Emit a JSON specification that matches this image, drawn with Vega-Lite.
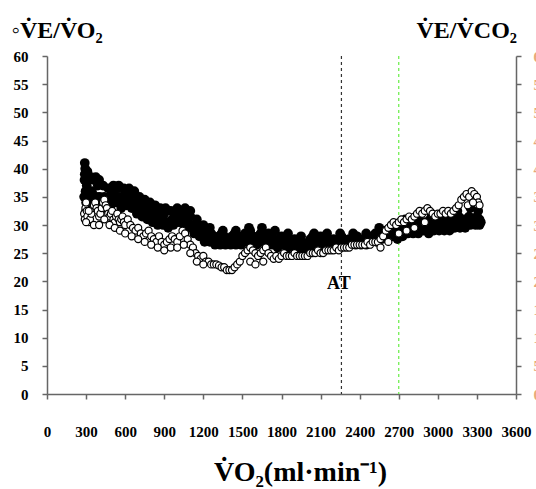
{
  "$schema": "https://vega.github.io/schema/vega-lite/v6.json",
  "width": 469,
  "height": 338,
  "autosize": {"type": "none"},
  "padding": {"left": 47, "top": 56, "right": 20, "bottom": 95},
  "background": "white",
  "config": {
    "view": {"stroke": null},
    "axis": {
      "labelFont": "Liberation Serif",
      "labelFontWeight": "bold",
      "labelFontSize": 15,
      "labelColor": "#000000",
      "labelOverlap": false,
      "labelFlush": false,
      "titleFont": "Liberation Serif",
      "titleFontWeight": "bold",
      "titleColor": "#000000",
      "domainColor": "#666666",
      "domainWidth": 1.5,
      "tickColor": "#666666",
      "tickWidth": 1.5,
      "tickSize": 5,
      "grid": false
    }
  },
  "datasets": {
    "vevco2": [
      {"vo2": 285, "r": 35}, {"vo2": 288, "r": 38}, {"vo2": 290, "r": 41}, {"vo2": 293, "r": 40}, {"vo2": 296, "r": 36},
      {"vo2": 300, "r": 34}, {"vo2": 305, "r": 37}, {"vo2": 315, "r": 35}, {"vo2": 330, "r": 34}, {"vo2": 345, "r": 36},
      {"vo2": 360, "r": 38}, {"vo2": 375, "r": 38.5}, {"vo2": 390, "r": 37}, {"vo2": 405, "r": 35}, {"vo2": 420, "r": 34},
      {"vo2": 440, "r": 35}, {"vo2": 460, "r": 34}, {"vo2": 480, "r": 35}, {"vo2": 500, "r": 36}, {"vo2": 520, "r": 35},
      {"vo2": 540, "r": 36.5}, {"vo2": 560, "r": 35}, {"vo2": 580, "r": 34}, {"vo2": 600, "r": 36}, {"vo2": 620, "r": 35},
      {"vo2": 640, "r": 34}, {"vo2": 660, "r": 35.5}, {"vo2": 680, "r": 34}, {"vo2": 700, "r": 33}, {"vo2": 720, "r": 34},
      {"vo2": 740, "r": 33}, {"vo2": 760, "r": 32}, {"vo2": 780, "r": 33.5}, {"vo2": 800, "r": 32}, {"vo2": 820, "r": 31},
      {"vo2": 840, "r": 32.5}, {"vo2": 860, "r": 31.5}, {"vo2": 880, "r": 31}, {"vo2": 900, "r": 32}, {"vo2": 920, "r": 30.5},
      {"vo2": 940, "r": 30}, {"vo2": 960, "r": 31}, {"vo2": 980, "r": 32}, {"vo2": 1000, "r": 32.5}, {"vo2": 1020, "r": 31},
      {"vo2": 1040, "r": 32}, {"vo2": 1060, "r": 31}, {"vo2": 1080, "r": 30.5}, {"vo2": 1100, "r": 31.5}, {"vo2": 1120, "r": 30},
      {"vo2": 1140, "r": 29}, {"vo2": 1160, "r": 30}, {"vo2": 1180, "r": 28.5}, {"vo2": 1200, "r": 28}, {"vo2": 1220, "r": 29},
      {"vo2": 1240, "r": 28}, {"vo2": 1260, "r": 28.5}, {"vo2": 1280, "r": 28}, {"vo2": 1300, "r": 27.5}, {"vo2": 1320, "r": 28},
      {"vo2": 1340, "r": 28.5}, {"vo2": 1360, "r": 28}, {"vo2": 1380, "r": 27.5}, {"vo2": 1400, "r": 27.5}, {"vo2": 1420, "r": 28},
      {"vo2": 1440, "r": 28.5}, {"vo2": 1460, "r": 28}, {"vo2": 1480, "r": 27.5}, {"vo2": 1500, "r": 28}, {"vo2": 1520, "r": 28.5},
      {"vo2": 1540, "r": 28}, {"vo2": 1560, "r": 29}, {"vo2": 1580, "r": 28}, {"vo2": 1600, "r": 27.5}, {"vo2": 1620, "r": 28},
      {"vo2": 1640, "r": 28.5}, {"vo2": 1660, "r": 28}, {"vo2": 1680, "r": 27.5}, {"vo2": 1700, "r": 28.5}, {"vo2": 1720, "r": 28},
      {"vo2": 1740, "r": 27.5}, {"vo2": 1760, "r": 27}, {"vo2": 1780, "r": 27.5}, {"vo2": 1800, "r": 28}, {"vo2": 1820, "r": 27.5},
      {"vo2": 1840, "r": 27}, {"vo2": 1860, "r": 26.5}, {"vo2": 1880, "r": 27}, {"vo2": 1900, "r": 27.5}, {"vo2": 1920, "r": 27},
      {"vo2": 1940, "r": 26.5}, {"vo2": 1960, "r": 27}, {"vo2": 1980, "r": 26.5}, {"vo2": 2000, "r": 26.5}, {"vo2": 2020, "r": 27.5},
      {"vo2": 2040, "r": 28}, {"vo2": 2060, "r": 27}, {"vo2": 2080, "r": 27.5}, {"vo2": 2100, "r": 28}, {"vo2": 2120, "r": 27.5},
      {"vo2": 2140, "r": 27}, {"vo2": 2160, "r": 27.5}, {"vo2": 2180, "r": 27}, {"vo2": 2200, "r": 27.5}, {"vo2": 2220, "r": 27},
      {"vo2": 2240, "r": 27.5}, {"vo2": 2260, "r": 28}, {"vo2": 2280, "r": 27.5}, {"vo2": 2300, "r": 27}, {"vo2": 2320, "r": 27.5},
      {"vo2": 2340, "r": 27}, {"vo2": 2360, "r": 27.5}, {"vo2": 2380, "r": 28}, {"vo2": 2400, "r": 27.5}, {"vo2": 2420, "r": 27},
      {"vo2": 2440, "r": 27.5}, {"vo2": 2460, "r": 28}, {"vo2": 2480, "r": 27.5}, {"vo2": 2500, "r": 28}, {"vo2": 2520, "r": 28.5},
      {"vo2": 2540, "r": 28}, {"vo2": 2560, "r": 29}, {"vo2": 2580, "r": 28.5}, {"vo2": 2600, "r": 29}, {"vo2": 2620, "r": 28},
      {"vo2": 2640, "r": 29.5}, {"vo2": 2660, "r": 29}, {"vo2": 2680, "r": 28}, {"vo2": 2700, "r": 29.5}, {"vo2": 2720, "r": 30},
      {"vo2": 2740, "r": 29}, {"vo2": 2760, "r": 30.5}, {"vo2": 2780, "r": 29.5}, {"vo2": 2800, "r": 30}, {"vo2": 2820, "r": 29},
      {"vo2": 2840, "r": 30.5}, {"vo2": 2860, "r": 30}, {"vo2": 2880, "r": 29.5}, {"vo2": 2900, "r": 30.5}, {"vo2": 2920, "r": 30},
      {"vo2": 2940, "r": 31}, {"vo2": 2960, "r": 29.5}, {"vo2": 2980, "r": 30.5}, {"vo2": 3000, "r": 30}, {"vo2": 3020, "r": 31},
      {"vo2": 3040, "r": 29.5}, {"vo2": 3060, "r": 30.5}, {"vo2": 3080, "r": 30}, {"vo2": 3100, "r": 31}, {"vo2": 3120, "r": 30},
      {"vo2": 3140, "r": 30.5}, {"vo2": 3160, "r": 31.5}, {"vo2": 3180, "r": 30.5}, {"vo2": 3200, "r": 31}, {"vo2": 3220, "r": 30},
      {"vo2": 3240, "r": 31.5}, {"vo2": 3260, "r": 31}, {"vo2": 3280, "r": 30.5}, {"vo2": 3300, "r": 31.5}, {"vo2": 3320, "r": 31},
      {"vo2": 3330, "r": 30.5},
      {"vo2": 300, "r": 32.5}, {"vo2": 320, "r": 33}, {"vo2": 350, "r": 34}, {"vo2": 380, "r": 35}, {"vo2": 410, "r": 33},
      {"vo2": 450, "r": 33}, {"vo2": 490, "r": 33.5}, {"vo2": 530, "r": 34}, {"vo2": 570, "r": 33}, {"vo2": 610, "r": 33.5},
      {"vo2": 650, "r": 33}, {"vo2": 690, "r": 32}, {"vo2": 730, "r": 31.5}, {"vo2": 770, "r": 31}, {"vo2": 810, "r": 30.5},
      {"vo2": 850, "r": 30}, {"vo2": 890, "r": 30}, {"vo2": 930, "r": 29.5}, {"vo2": 970, "r": 30}, {"vo2": 1010, "r": 30.5},
      {"vo2": 1050, "r": 30}, {"vo2": 1090, "r": 29.5}, {"vo2": 1130, "r": 28.5}, {"vo2": 1170, "r": 28}, {"vo2": 1210, "r": 27},
      {"vo2": 1250, "r": 27}, {"vo2": 1290, "r": 26.5}, {"vo2": 1330, "r": 26.5}, {"vo2": 1370, "r": 26.5}, {"vo2": 1410, "r": 26.5},
      {"vo2": 1450, "r": 26.5}, {"vo2": 1490, "r": 26.5}, {"vo2": 1530, "r": 27}, {"vo2": 1570, "r": 27}, {"vo2": 1610, "r": 26.5},
      {"vo2": 1650, "r": 27}, {"vo2": 1690, "r": 26.5}, {"vo2": 1730, "r": 26.5}, {"vo2": 1770, "r": 26}, {"vo2": 1810, "r": 26.5},
      {"vo2": 1850, "r": 26}, {"vo2": 1890, "r": 26}, {"vo2": 1930, "r": 26}, {"vo2": 1970, "r": 25.5}, {"vo2": 2010, "r": 25.5},
      {"vo2": 2050, "r": 26}, {"vo2": 2090, "r": 26.5}, {"vo2": 2130, "r": 26.5}, {"vo2": 2170, "r": 26}, {"vo2": 2210, "r": 26},
      {"vo2": 2250, "r": 26.5}, {"vo2": 2290, "r": 26.5}, {"vo2": 2330, "r": 26.5}, {"vo2": 2370, "r": 26.5}, {"vo2": 2410, "r": 26.5},
      {"vo2": 2450, "r": 26.5}, {"vo2": 2490, "r": 27}, {"vo2": 2530, "r": 27}, {"vo2": 2570, "r": 27.5}, {"vo2": 2610, "r": 27.5},
      {"vo2": 2650, "r": 28}, {"vo2": 2690, "r": 27.5}, {"vo2": 2730, "r": 28}, {"vo2": 2770, "r": 28.5}, {"vo2": 2810, "r": 28.5},
      {"vo2": 2850, "r": 28.5}, {"vo2": 2890, "r": 29}, {"vo2": 2930, "r": 28.5}, {"vo2": 2970, "r": 29}, {"vo2": 3010, "r": 29},
      {"vo2": 3050, "r": 29}, {"vo2": 3090, "r": 29}, {"vo2": 3130, "r": 29.5}, {"vo2": 3170, "r": 29.5}, {"vo2": 3210, "r": 29.5},
      {"vo2": 3250, "r": 30}, {"vo2": 3290, "r": 30}, {"vo2": 3320, "r": 30},
      {"vo2": 290, "r": 39}, {"vo2": 300, "r": 38}, {"vo2": 310, "r": 39.5}, {"vo2": 340, "r": 38.5}, {"vo2": 400, "r": 38},
      {"vo2": 430, "r": 37}, {"vo2": 470, "r": 36.5}, {"vo2": 510, "r": 37}, {"vo2": 550, "r": 37}, {"vo2": 590, "r": 36.5},
      {"vo2": 630, "r": 36.5}, {"vo2": 670, "r": 36}, {"vo2": 710, "r": 35}, {"vo2": 750, "r": 34.5}, {"vo2": 790, "r": 34},
      {"vo2": 830, "r": 33.5}, {"vo2": 870, "r": 33}, {"vo2": 910, "r": 33}, {"vo2": 950, "r": 32.5}, {"vo2": 1000, "r": 33},
      {"vo2": 1060, "r": 33}, {"vo2": 1100, "r": 32.5}, {"vo2": 1150, "r": 31}, {"vo2": 1200, "r": 30}, {"vo2": 1250, "r": 29.5},
      {"vo2": 1350, "r": 29}, {"vo2": 1450, "r": 29}, {"vo2": 1550, "r": 29.5}, {"vo2": 1650, "r": 29.5}, {"vo2": 1750, "r": 29},
      {"vo2": 1850, "r": 28.5}, {"vo2": 1950, "r": 28}, {"vo2": 2050, "r": 28.5}, {"vo2": 2150, "r": 28.5}, {"vo2": 2250, "r": 28.5},
      {"vo2": 2350, "r": 28.5}, {"vo2": 2450, "r": 28.5}, {"vo2": 2550, "r": 29.5}, {"vo2": 2650, "r": 30}, {"vo2": 2750, "r": 31},
      {"vo2": 2850, "r": 31.5}, {"vo2": 2950, "r": 32}, {"vo2": 3050, "r": 32}, {"vo2": 3150, "r": 32.5}, {"vo2": 3250, "r": 33},
      {"vo2": 3310, "r": 32.5}
    ],
    "vevo2": [
      {"vo2": 285, "r": 32}, {"vo2": 290, "r": 31}, {"vo2": 295, "r": 33}, {"vo2": 300, "r": 34}, {"vo2": 305, "r": 32.5},
      {"vo2": 310, "r": 31.5}, {"vo2": 320, "r": 30.5}, {"vo2": 330, "r": 31}, {"vo2": 340, "r": 32}, {"vo2": 350, "r": 33},
      {"vo2": 360, "r": 33.5}, {"vo2": 370, "r": 34}, {"vo2": 380, "r": 33}, {"vo2": 390, "r": 32.5}, {"vo2": 400, "r": 31.5},
      {"vo2": 410, "r": 32}, {"vo2": 420, "r": 33}, {"vo2": 430, "r": 34}, {"vo2": 440, "r": 34.5}, {"vo2": 450, "r": 33.5},
      {"vo2": 460, "r": 33}, {"vo2": 470, "r": 32}, {"vo2": 480, "r": 31.5}, {"vo2": 490, "r": 32}, {"vo2": 500, "r": 32.5},
      {"vo2": 510, "r": 31}, {"vo2": 520, "r": 30.5}, {"vo2": 530, "r": 31.5}, {"vo2": 540, "r": 32}, {"vo2": 550, "r": 31},
      {"vo2": 560, "r": 30.5}, {"vo2": 570, "r": 31}, {"vo2": 580, "r": 31.5}, {"vo2": 590, "r": 30.5}, {"vo2": 600, "r": 30},
      {"vo2": 620, "r": 31}, {"vo2": 640, "r": 30}, {"vo2": 660, "r": 29.5}, {"vo2": 680, "r": 29}, {"vo2": 700, "r": 29.5},
      {"vo2": 720, "r": 28.5}, {"vo2": 740, "r": 28}, {"vo2": 760, "r": 28.5}, {"vo2": 780, "r": 29}, {"vo2": 800, "r": 28},
      {"vo2": 820, "r": 27.5}, {"vo2": 840, "r": 27}, {"vo2": 860, "r": 28}, {"vo2": 880, "r": 27}, {"vo2": 900, "r": 26.5},
      {"vo2": 920, "r": 27}, {"vo2": 940, "r": 27.5}, {"vo2": 960, "r": 28}, {"vo2": 980, "r": 27.5}, {"vo2": 1000, "r": 27},
      {"vo2": 1020, "r": 28}, {"vo2": 1040, "r": 29}, {"vo2": 1060, "r": 28.5}, {"vo2": 1080, "r": 27.5}, {"vo2": 1100, "r": 26.5},
      {"vo2": 1120, "r": 26}, {"vo2": 1140, "r": 25}, {"vo2": 1160, "r": 24.5}, {"vo2": 1180, "r": 24}, {"vo2": 1200, "r": 24.5},
      {"vo2": 1220, "r": 23.5}, {"vo2": 1240, "r": 23.5}, {"vo2": 1260, "r": 23}, {"vo2": 1280, "r": 23}, {"vo2": 1300, "r": 23},
      {"vo2": 1320, "r": 22.8}, {"vo2": 1340, "r": 22.5}, {"vo2": 1360, "r": 22.5}, {"vo2": 1380, "r": 22}, {"vo2": 1400, "r": 22},
      {"vo2": 1420, "r": 22}, {"vo2": 1440, "r": 22.5}, {"vo2": 1460, "r": 23}, {"vo2": 1480, "r": 23.5}, {"vo2": 1500, "r": 24.5},
      {"vo2": 1520, "r": 25}, {"vo2": 1540, "r": 25.5}, {"vo2": 1560, "r": 26}, {"vo2": 1580, "r": 25.5}, {"vo2": 1600, "r": 25},
      {"vo2": 1620, "r": 24.5}, {"vo2": 1640, "r": 25}, {"vo2": 1660, "r": 25.5}, {"vo2": 1680, "r": 26}, {"vo2": 1700, "r": 25},
      {"vo2": 1720, "r": 24.5}, {"vo2": 1740, "r": 24}, {"vo2": 1760, "r": 24.5}, {"vo2": 1780, "r": 24}, {"vo2": 1800, "r": 24.5},
      {"vo2": 1820, "r": 25}, {"vo2": 1840, "r": 24.5}, {"vo2": 1860, "r": 24.5}, {"vo2": 1880, "r": 24.5}, {"vo2": 1900, "r": 25},
      {"vo2": 1920, "r": 24.5}, {"vo2": 1940, "r": 24.5}, {"vo2": 1960, "r": 24.5}, {"vo2": 1980, "r": 24.5}, {"vo2": 2000, "r": 24.5},
      {"vo2": 2020, "r": 25}, {"vo2": 2040, "r": 25}, {"vo2": 2060, "r": 25}, {"vo2": 2080, "r": 25.5}, {"vo2": 2100, "r": 25},
      {"vo2": 2120, "r": 25}, {"vo2": 2140, "r": 25.5}, {"vo2": 2160, "r": 25.5}, {"vo2": 2180, "r": 25.5}, {"vo2": 2200, "r": 25.5},
      {"vo2": 2220, "r": 26}, {"vo2": 2240, "r": 25.5}, {"vo2": 2260, "r": 26}, {"vo2": 2280, "r": 26}, {"vo2": 2300, "r": 26},
      {"vo2": 2320, "r": 26}, {"vo2": 2340, "r": 26.5}, {"vo2": 2360, "r": 26.5}, {"vo2": 2380, "r": 26.5}, {"vo2": 2400, "r": 26.5},
      {"vo2": 2420, "r": 26.5}, {"vo2": 2440, "r": 26.5}, {"vo2": 2460, "r": 27}, {"vo2": 2480, "r": 26.5}, {"vo2": 2500, "r": 27},
      {"vo2": 2520, "r": 27}, {"vo2": 2540, "r": 27}, {"vo2": 2560, "r": 27.5}, {"vo2": 2580, "r": 28}, {"vo2": 2600, "r": 29},
      {"vo2": 2620, "r": 29.5}, {"vo2": 2640, "r": 30}, {"vo2": 2660, "r": 30.5}, {"vo2": 2680, "r": 30}, {"vo2": 2700, "r": 30.5},
      {"vo2": 2720, "r": 31}, {"vo2": 2740, "r": 30.5}, {"vo2": 2760, "r": 31}, {"vo2": 2780, "r": 31.5}, {"vo2": 2800, "r": 31},
      {"vo2": 2820, "r": 31.5}, {"vo2": 2840, "r": 32}, {"vo2": 2860, "r": 32.5}, {"vo2": 2880, "r": 32}, {"vo2": 2900, "r": 32.5},
      {"vo2": 2920, "r": 33}, {"vo2": 2940, "r": 32.5}, {"vo2": 2960, "r": 32}, {"vo2": 2980, "r": 31.5}, {"vo2": 3000, "r": 32},
      {"vo2": 3020, "r": 32}, {"vo2": 3040, "r": 32.5}, {"vo2": 3060, "r": 32}, {"vo2": 3080, "r": 32.5}, {"vo2": 3100, "r": 32},
      {"vo2": 3120, "r": 32.5}, {"vo2": 3140, "r": 33}, {"vo2": 3160, "r": 33.5}, {"vo2": 3180, "r": 34.5}, {"vo2": 3200, "r": 35},
      {"vo2": 3220, "r": 35.5}, {"vo2": 3240, "r": 35}, {"vo2": 3260, "r": 36}, {"vo2": 3280, "r": 35.5}, {"vo2": 3300, "r": 35},
      {"vo2": 3310, "r": 34}, {"vo2": 3320, "r": 33.5},
      {"vo2": 300, "r": 30.5}, {"vo2": 320, "r": 32.5}, {"vo2": 360, "r": 30}, {"vo2": 400, "r": 30}, {"vo2": 440, "r": 31},
      {"vo2": 480, "r": 30}, {"vo2": 520, "r": 29.5}, {"vo2": 560, "r": 29}, {"vo2": 600, "r": 28.5}, {"vo2": 650, "r": 28},
      {"vo2": 700, "r": 27.5}, {"vo2": 750, "r": 27}, {"vo2": 800, "r": 26.5}, {"vo2": 850, "r": 26}, {"vo2": 900, "r": 25.5},
      {"vo2": 950, "r": 26}, {"vo2": 1000, "r": 26}, {"vo2": 1050, "r": 26.5}, {"vo2": 1100, "r": 25}, {"vo2": 1150, "r": 23.5},
      {"vo2": 1200, "r": 23}, {"vo2": 1560, "r": 23.5}, {"vo2": 1600, "r": 23}, {"vo2": 1660, "r": 23.5}, {"vo2": 2560, "r": 26},
      {"vo2": 2620, "r": 27}, {"vo2": 2700, "r": 28.5}, {"vo2": 2760, "r": 29}, {"vo2": 2820, "r": 29.5}, {"vo2": 2900, "r": 30.5},
      {"vo2": 3230, "r": 33.5}, {"vo2": 3270, "r": 34}
    ],
    "lines": [
      {"vo2": 2260, "kind": "AT"},
      {"vo2": 2700, "kind": "RCP"}
    ],
    "labels": [
      {"vo2": 2240, "r": 19.5, "text": "AT"}
    ]
  },
  "encoding": {
    "x": {
      "field": "vo2",
      "type": "quantitative",
      "scale": {"domain": [0, 3600], "nice": false, "zero": false},
      "axis": {
        "values": [0, 300, 600, 900, 1200, 1500, 1800, 2100, 2400, 2700, 3000, 3300, 3600],
        "format": "d",
        "labelPadding": 25,
        "title": "V̇O₂(ml·min⁻¹)",
        "titleFontSize": 28,
        "titleX": 253,
        "titleY": 78,
        "titleBaseline": "middle",
        "titleAlign": "center"
      }
    }
  },
  "layer": [
    {
      "data": {"name": "lines"},
      "mark": {"type": "rule", "strokeDash": [3, 3], "strokeWidth": 1.2},
      "encoding": {
        "color": {
          "field": "kind",
          "type": "nominal",
          "scale": {"domain": ["AT", "RCP"], "range": ["#333333", "#66ee44"]},
          "legend": null
        }
      }
    },
    {
      "data": {"name": "vevco2"},
      "mark": {"type": "point", "shape": "circle", "filled": true, "color": "#000000", "size": 95, "opacity": 1},
      "encoding": {
        "y": {
          "field": "r",
          "type": "quantitative",
          "scale": {"domain": [0, 60], "nice": false},
          "axis": {
            "orient": "right",
            "values": [0, 5, 10, 15, 20, 25, 30, 35, 40, 45, 50, 55, 60],
            "labelColor": "#e8a878",
            "labelPadding": 12,
            "labelAlign": "left",
            "title": "V̇E/V̇CO₂",
            "titleFontSize": 24,
            "titleAngle": 0,
            "titleAlign": "left",
            "titleBaseline": "middle",
            "titleX": -100,
            "titleY": -26
          }
        }
      }
    },
    {
      "data": {"name": "vevo2"},
      "mark": {"type": "point", "shape": "circle", "filled": false, "fill": "#ffffff", "stroke": "#000000", "strokeWidth": 1.2, "size": 50, "opacity": 1},
      "encoding": {
        "y": {
          "field": "r",
          "type": "quantitative",
          "scale": {"domain": [0, 60], "nice": false},
          "axis": {
            "orient": "left",
            "values": [0, 5, 10, 15, 20, 25, 30, 35, 40, 45, 50, 55, 60],
            "labelPadding": 14,
            "title": "◦V̇E/V̇O₂",
            "titleFontSize": 24,
            "titleAngle": 0,
            "titleAlign": "left",
            "titleBaseline": "middle",
            "titleX": -36,
            "titleY": -26
          }
        }
      }
    },
    {
      "data": {"name": "labels"},
      "mark": {"type": "text", "font": "Liberation Serif", "fontWeight": "bold", "fontSize": 18, "color": "#000000"},
      "encoding": {
        "y": {"field": "r", "type": "quantitative", "scale": {"domain": [0, 60], "nice": false}, "axis": null},
        "text": {"field": "text"}
      }
    }
  ],
  "resolve": {"axis": {"y": "independent"}}
}
